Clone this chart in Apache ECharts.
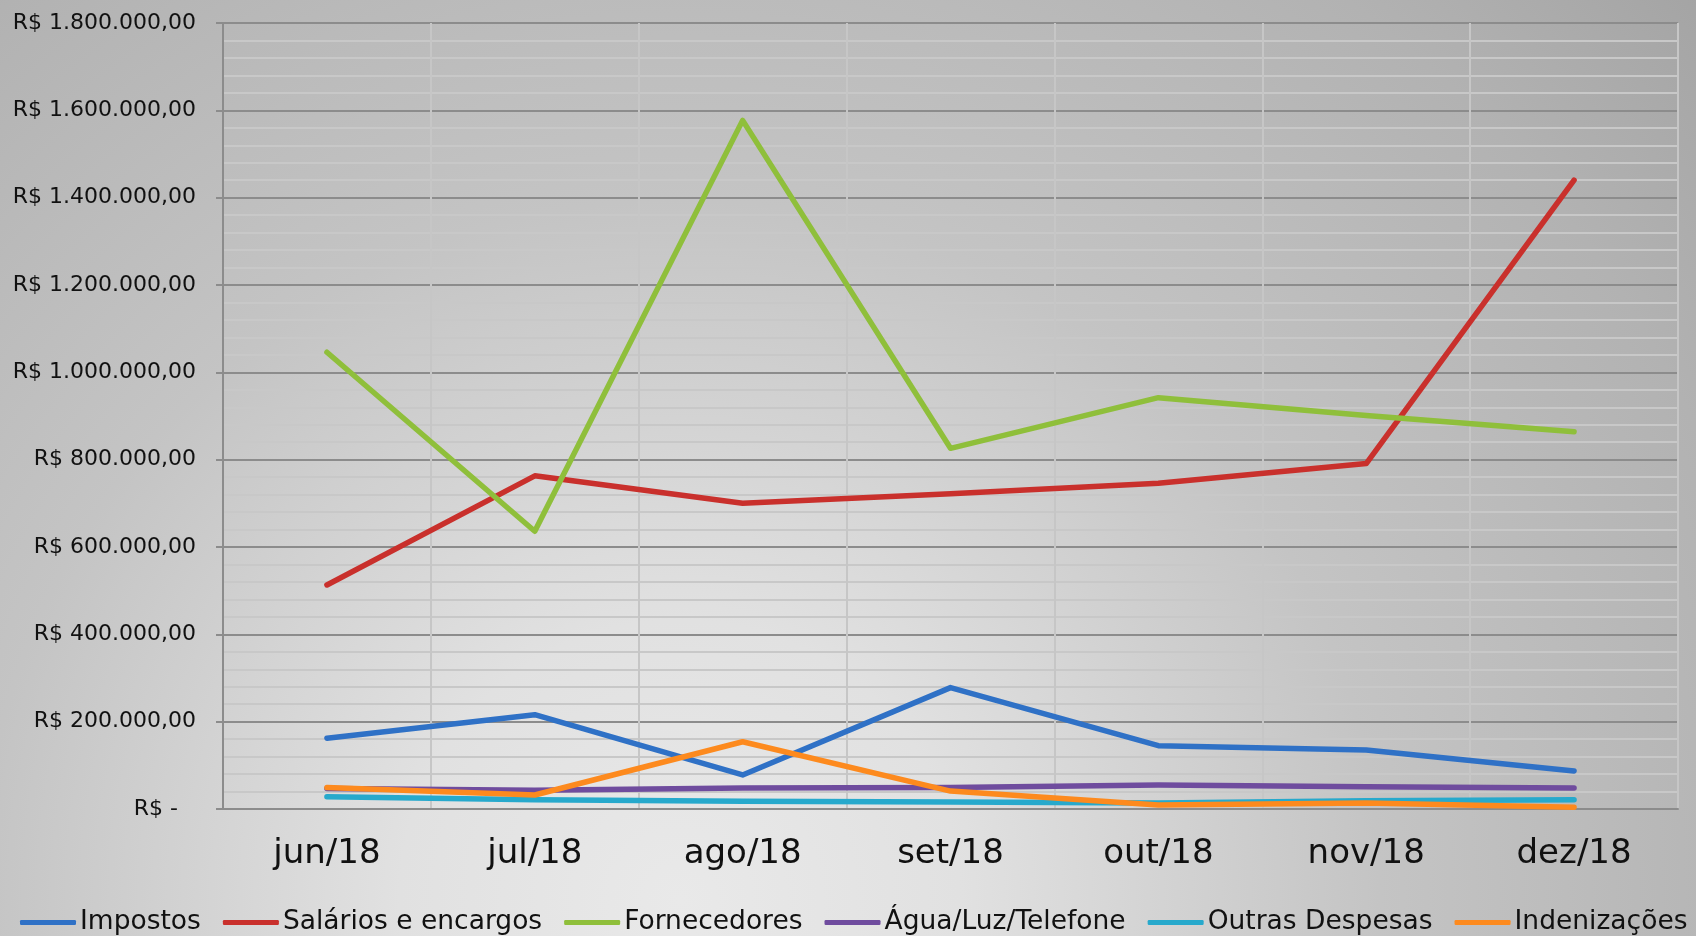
<!DOCTYPE html>
<html>
<head>
<meta charset="utf-8">
<script src="https://cdn.jsdelivr.net/npm/echarts@6/dist/echarts.min.js"></script>
<style>
  html, body { margin: 0; padding: 0; }
  #chart { width: 1696px; height: 936px; }
</style>
</head>
<body>
<div id="chart"></div>
<script>
const months = ['jun/18', 'jul/18', 'ago/18', 'set/18', 'out/18', 'nov/18', 'dez/18'];

const impostos = [162000, 216000, 78000, 278000, 145000, 135000, 87000];
const salarios = [513000, 763000, 700000, 722000, 746000, 791000, 1440000];
const fornecedores = [1046000, 636000, 1577000, 826000, 942000, 901000, 864000];
const aguaLuzTelefone = [47000, 43000, 48000, 49000, 55000, 51000, 48000];
const outrasDespesas = [28000, 21000, 18000, 16000, 14000, 19000, 21000];
const indenizacoes = [49000, 32000, 154000, 41000, 9000, 14000, 4000];

const seriesNames = ['Impostos', 'Salários e encargos', 'Fornecedores', 'Água/Luz/Telefone', 'Outras Despesas', 'Indenizações'];
const seriesData = [impostos, salarios, fornecedores, aguaLuzTelefone, outrasDespesas, indenizacoes];
const colors = ['#2f71c6', '#c9302c', '#8fbf3b', '#6f4c9e', '#27a9cc', '#fd8a1e'];

const yMax = 1800000;
const yStep = 200000;

function brl(v) {
  if (v === 0) return '{z|R$ -}';
  return 'R$ ' + String(v).replace(/\B(?=(\d{3})+(?!\d))/g, '.') + ',00';
}

const chart = echarts.init(document.getElementById('chart'));

chart.setOption({
  backgroundColor: {
    type: 'radial', x: 680, y: 900, r: 1400, global: true,
    colorStops: [
      { offset: 0, color: '#e9e9e9' },
      { offset: 0.2, color: '#e1e1e1' },
      { offset: 0.5, color: '#c4c4c4' },
      { offset: 0.8, color: '#b2b2b2' },
      { offset: 1, color: '#a2a2a2' },
    ],
  },
  color: colors,
  textStyle: { fontFamily: 'DejaVu Sans' },
  grid: { left: 223, right: 18, top: 23, bottom: 127, containLabel: false },
  legend: {
    top: 909,
    left: 20,
    width: 1760,
    padding: 0,
    icon: 'roundRect',
    itemWidth: 56,
    itemHeight: 5,
    itemGap: 22,
    textStyle: { fontSize: 26.5, color: '#111', padding: [0, 0, 0, -1] },
    data: seriesNames,
  },
  xAxis: {
    type: 'category',
    data: months,
    boundaryGap: true,
    axisLine: { lineStyle: { color: '#8c8c8c', width: 2 } },
    axisTick: { show: false },
    axisLabel: { color: '#111', fontSize: 34, margin: 28 },
    splitLine: { show: true, lineStyle: { color: '#c6c6c6', width: 2 } },
  },
  yAxis: {
    type: 'value',
    min: 0,
    max: yMax,
    interval: yStep,
    axisLine: { show: true, lineStyle: { color: '#8c8c8c', width: 2 } },
    axisTick: { show: true, length: 7, lineStyle: { color: '#8c8c8c', width: 2 } },
    axisLabel: {
      color: '#111', fontSize: 22, margin: 27,
      formatter: brl,
      rich: { z: { fontSize: 22, color: '#111', padding: [0, 18, 0, 0] } },
    },
    splitLine: { lineStyle: { color: '#8c8c8c', width: 2 } },
    minorTick: { show: false, splitNumber: 5 },
    minorSplitLine: { show: true, lineStyle: { color: '#c8c8c8', width: 2 } },
  },
  series: seriesNames.map((name, i) => ({
    name,
    type: 'line',
    data: seriesData[i],
    symbol: 'none',
    lineStyle: { width: 5.5, color: colors[i], cap: 'round', join: 'round' },
    itemStyle: { color: colors[i] },
    z: 3,
  })),
});
</script>
</body>
</html>
